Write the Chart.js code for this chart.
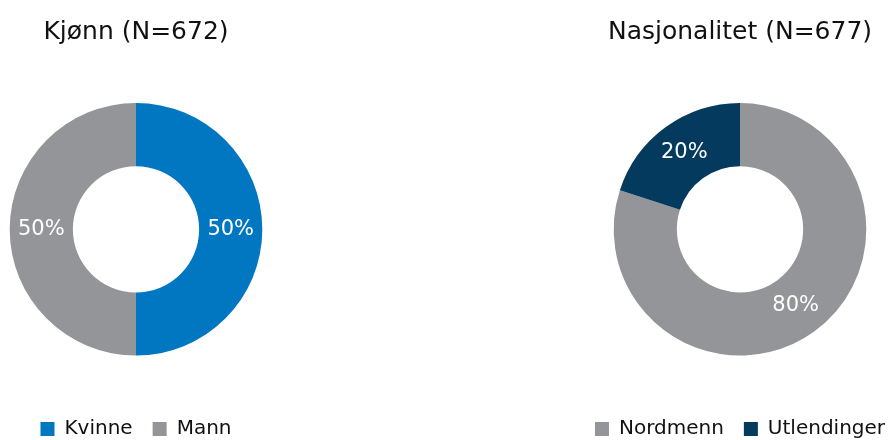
<!DOCTYPE html>
<html>
<head>
<meta charset="utf-8">
<script src="https://cdn.jsdelivr.net/npm/chart.js@4/dist/chart.umd.min.js"></script>
<style>
  html, body { margin: 0; padding: 0; background: #fff; overflow: hidden; }
  body { width: 894px; height: 440px; position: relative; }
  .box { position: absolute; top: 0; height: 449px; }
  #leftBox { left: -20px; width: 312px; }
  #rightBox { left: 556px; width: 368px; }
</style>
</head>
<body>
<div class="box" id="leftBox"><canvas id="kjonnChart"></canvas></div>
<div class="box" id="rightBox"><canvas id="nasjonChart"></canvas></div>
<script>
const kjonnLabels = ["Kvinne", "Mann"];
const kjonnValues = [50, 50];
const kjonnColors = ["#0077C0", "#939598"];

const nasjonLabels = ["Nordmenn", "Utlendinger"];
const nasjonValues = [80, 20];
const nasjonColors = ["#939598", "#033A5E"];

const fontFamily = "'DejaVu Sans', sans-serif";

// writes the percentage in the middle of each slice
const sliceLabels = {
    id: "sliceLabels",
    afterDatasetsDraw(chart) {
        const ctx = chart.ctx;
        const values = chart.data.datasets[0].data;
        const total = values.reduce((a, b) => a + b, 0);
        ctx.save();
        ctx.fillStyle = "#ffffff";
        ctx.font = "21px " + fontFamily;
        ctx.textAlign = "center";
        ctx.textBaseline = "middle";
        chart.getDatasetMeta(0).data.forEach((arc, i) => {
            const pos = arc.tooltipPosition();
            const pct = Math.round(values[i] / total * 100) + "%";
            ctx.fillText(pct, pos.x, pos.y);
        });
        ctx.restore();
    }
};

function drawDoughnut(canvasId, title, labels, values, colors) {
    const ctx = document.getElementById(canvasId).getContext("2d");
    return new Chart(ctx, {
        type: "doughnut",
        data: {
            labels: labels,
            datasets: [{
                data: values,
                backgroundColor: colors,
                borderWidth: 0,
            }],
        },
        options: {
            responsive: true,
            maintainAspectRatio: false,
            animation: false,
            cutout: "50%",
            plugins: {
                title: {
                    display: true,
                    text: title,
                    color: "#111111",
                    font: { family: fontFamily, size: 25, weight: "normal" },
                    padding: { top: 17, bottom: 56 },
                },
                legend: {
                    position: "bottom",
                    // empty title only used as a spacer above the items
                    title: {
                        display: true,
                        text: "",
                        font: { size: 12 },
                        padding: { top: 0, bottom: 29 },
                    },
                    labels: {
                        color: "#111111",
                        font: { family: fontFamily, size: 20 },
                        boxWidth: 14,
                        boxHeight: 14,
                        padding: 20,
                    },
                },
                tooltip: { enabled: false },
            },
        },
        plugins: [sliceLabels],
    });
}

drawDoughnut("kjonnChart", "Kjønn (N=672)", kjonnLabels, kjonnValues, kjonnColors);
drawDoughnut("nasjonChart", "Nasjonalitet (N=677)", nasjonLabels, nasjonValues, nasjonColors);
</script>
</body>
</html>
